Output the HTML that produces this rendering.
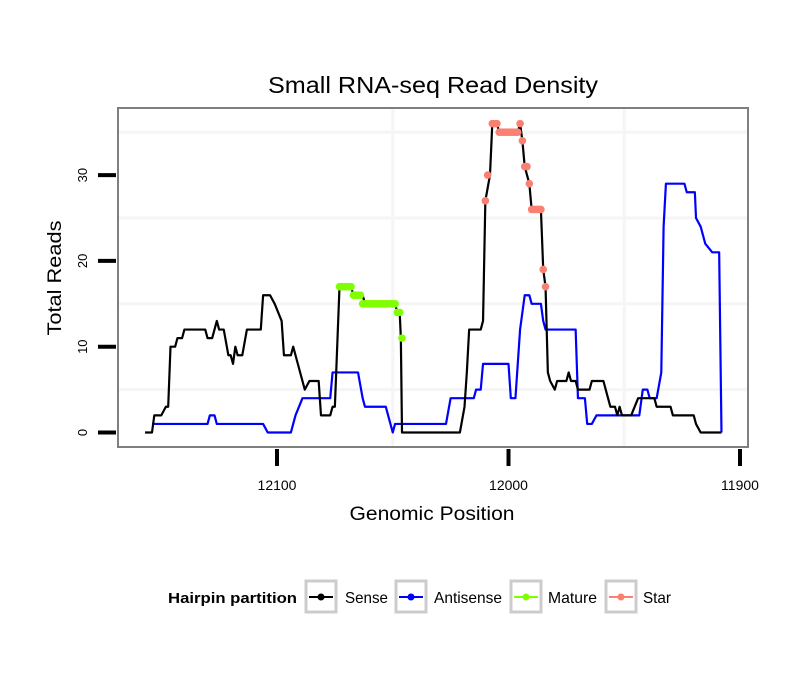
<!DOCTYPE html>
<html><head><meta charset="utf-8"><style>
body{margin:0;background:#fff;}
svg text{font-family:"Liberation Sans",sans-serif;}
</style></head><body>
<svg id="chart" width="810" height="690" viewBox="0 0 810 690" xmlns="http://www.w3.org/2000/svg">
<text x="433" y="93" font-size="23" text-anchor="middle" textLength="330" lengthAdjust="spacingAndGlyphs">Small RNA-seq Read Density</text>
<g id="grid"></g>
<g id="series"></g>
<rect x="118" y="108" width="630" height="339" fill="none" stroke="#7f7f7f" stroke-width="2"/>
<g id="axes"></g>
<text transform="translate(61,278) rotate(-90)" font-size="19" text-anchor="middle" textLength="115" lengthAdjust="spacingAndGlyphs">Total Reads</text>
<text x="432" y="520" font-size="19" text-anchor="middle" textLength="165" lengthAdjust="spacingAndGlyphs">Genomic Position</text>
<g>
<text x="168" y="603" font-size="15" font-weight="bold" textLength="129" lengthAdjust="spacingAndGlyphs">Hairpin partition</text>
<g><rect x="306" y="581" width="30" height="31" fill="#fff" stroke="#ccc" stroke-width="3"/><line x1="309" y1="597" x2="333" y2="597" stroke="#000" stroke-width="2"/><circle cx="321" cy="597" r="3.5" fill="#000"/><text x="345" y="603" font-size="16" textLength="43" lengthAdjust="spacingAndGlyphs">Sense</text></g>
<g><rect x="396" y="581" width="30" height="31" fill="#fff" stroke="#ccc" stroke-width="3"/><line x1="399" y1="597" x2="423" y2="597" stroke="#00f" stroke-width="2"/><circle cx="411" cy="597" r="3.5" fill="#00f"/><text x="434" y="603" font-size="16" textLength="68" lengthAdjust="spacingAndGlyphs">Antisense</text></g>
<g><rect x="511" y="581" width="30" height="31" fill="#fff" stroke="#ccc" stroke-width="3"/><line x1="514" y1="597" x2="538" y2="597" stroke="#7fff00" stroke-width="2"/><circle cx="526" cy="597" r="3.5" fill="#7fff00"/><text x="548" y="603" font-size="16" textLength="49" lengthAdjust="spacingAndGlyphs">Mature</text></g>
<g><rect x="606" y="581" width="30" height="31" fill="#fff" stroke="#ccc" stroke-width="3"/><line x1="609" y1="597" x2="633" y2="597" stroke="#fa8072" stroke-width="2"/><circle cx="621" cy="597" r="3.5" fill="#fa8072"/><text x="643" y="603" font-size="16" textLength="28" lengthAdjust="spacingAndGlyphs">Star</text></g>
</g>
</svg>
<script>
const senseX=[12157,12154,12153,12150,12148,12147,12146,12144,12143,12141,12140,12131,12130,12128,12126,12125,12123,12121,12120,12119,12118,12117,12115,12113,12107,12106,12103,12101,12098,12097,12094,12093,12091,12089,12088,12086,12082,12081,12077,12076,12075,12073,12068,12067,12063,12062,12049,12048,12047,12046.5,12046,12021,12019,12018,12017,12012,12011,12010,12008,12007,12005,12004,11996,11995,11994,11993,11991,11990,11986,11985,11984,11983,11982,11980,11979,11975,11974,11973,11971,11970,11965,11964,11959,11957,11956,11954,11953,11952,11951,11947,11944,11937,11936,11930,11929,11920,11919,11917,11908];
const senseY=[0,0,2,2,3,3,10,10,11,11,12,12,11,11,13,12,12,9,9,8,10,9,9,12,12,16,16,15,13,9,9,10,8,6,5,6,6,2,2,3,3,17,17,16,16,15,15,14,14,11,0,0,3,7,12,12,13,27,30,36,36,35,35,36,34,31,29,26,26,19,17,7,6,5,6,6,7,6,6,5,5,6,6,4,3,3,2,3,2,2,4,4,3,3,2,2,1,0,0];
const antiX=[12154,12130,12129,12127,12126,12106,12104,12094,12093,12092,12089,12077,12076,12065,12063,12062,12053,12051,12050,12049,12027,12025,12015,12014,12012,12011,12000,11999,11997,11995,11994.5,11993,11991,11990,11986,11985,11984,11971,11970,11967,11966,11964,11962,11943.5,11943,11942,11940,11939,11936,11934,11933,11932,11924,11923,11919.5,11919,11917,11915,11912,11909,11908];
const antiY=[1,1,2,2,1,1,0,0,1,2,4,4,7,7,4,3,3,1,0,1,1,4,4,5,5,8,8,4,4,12,13,16,16,15,15,13,12,12,4,4,1,1,2,2,3,5,5,4,4,7,24,29,29,28,28,25,24,22,21,21,0];
const matureX=[12073,12072,12071,12070,12069,12068,12067,12066,12065,12064,12063,12062,12061,12060,12059,12058,12057,12056,12055,12054,12053,12052,12051,12050,12049,12048,12047,12046];
const matureY=[17,17,17,17,17,17,16,16,16,16,15,15,15,15,15,15,15,15,15,15,15,15,15,15,15,14,14,11];
const starX=[12010,12009,12007,12006,12005,12004,12003,12002,12001,12000,11999,11998,11997,11996,11995,11994,11993,11992,11991,11990,11989,11988,11987,11986,11985,11984];
const starY=[27,30,36,36,36,35,35,35,35,35,35,35,35,35,36,34,31,31,29,26,26,26,26,26,19,17];
const yTicks=[0,10,20,30];
const xTicks=[12100,12000,11900];
const yGrid=[5,15,25,35];
const xGrid=[12050,11950];

const sx=v=>277+(12100-v)*2.315;
const sy=v=>432.5-v*8.58;
const NS="http://www.w3.org/2000/svg";
function mk(tag,attrs,parent){const e=document.createElementNS(NS,tag);for(const k in attrs)e.setAttribute(k,attrs[k]);parent.appendChild(e);return e;}
const grid=document.getElementById('grid'),ser=document.getElementById('series'),axes=document.getElementById('axes');
yGrid.forEach(v=>{const l=mk('line',{x1:118,x2:748,y1:sy(v),y2:sy(v),stroke:'#f5f5f5','stroke-width':3},grid);

});
xGrid.forEach(v=>{const l=mk('line',{x1:sx(v),x2:sx(v),y1:108,y2:447,stroke:'#f5f5f5','stroke-width':3},grid);

});
function line(xs,ys,color,name){const p=mk('polyline',{points:xs.map((x,i)=>sx(x)+','+sy(ys[i])).join(' '),fill:'none',stroke:color,'stroke-width':2.2,'stroke-linejoin':'round'},ser);

}
function dots(xs,ys,color,name){xs.forEach((x,i)=>{const c=mk('circle',{cx:sx(x),cy:sy(ys[i]),r:3.8,fill:color},ser);

});}
line(antiX,antiY,'#0000ff','antisense-line');
line(senseX,senseY,'#000000','sense-line');
dots(matureX,matureY,'#7fff00','mature-point');
dots(starX,starY,'#fa8072','star-point');
yTicks.forEach(v=>{const t=mk('line',{x1:98,x2:116,y1:sy(v),y2:sy(v),stroke:'#000','stroke-width':4},axes);


const tx=mk('text',{transform:'translate(87,'+sy(v)+') rotate(-90)','font-size':13,'text-anchor':'middle'},axes);tx.textContent=v;

});
xTicks.forEach(v=>{const t=mk('line',{x1:sx(v),x2:sx(v),y1:449,y2:466,stroke:'#000','stroke-width':4},axes);


const tx=mk('text',{x:sx(v),y:490,'font-size':14,'text-anchor':'middle'},axes);tx.textContent=v;

});
</script>
</body></html>
